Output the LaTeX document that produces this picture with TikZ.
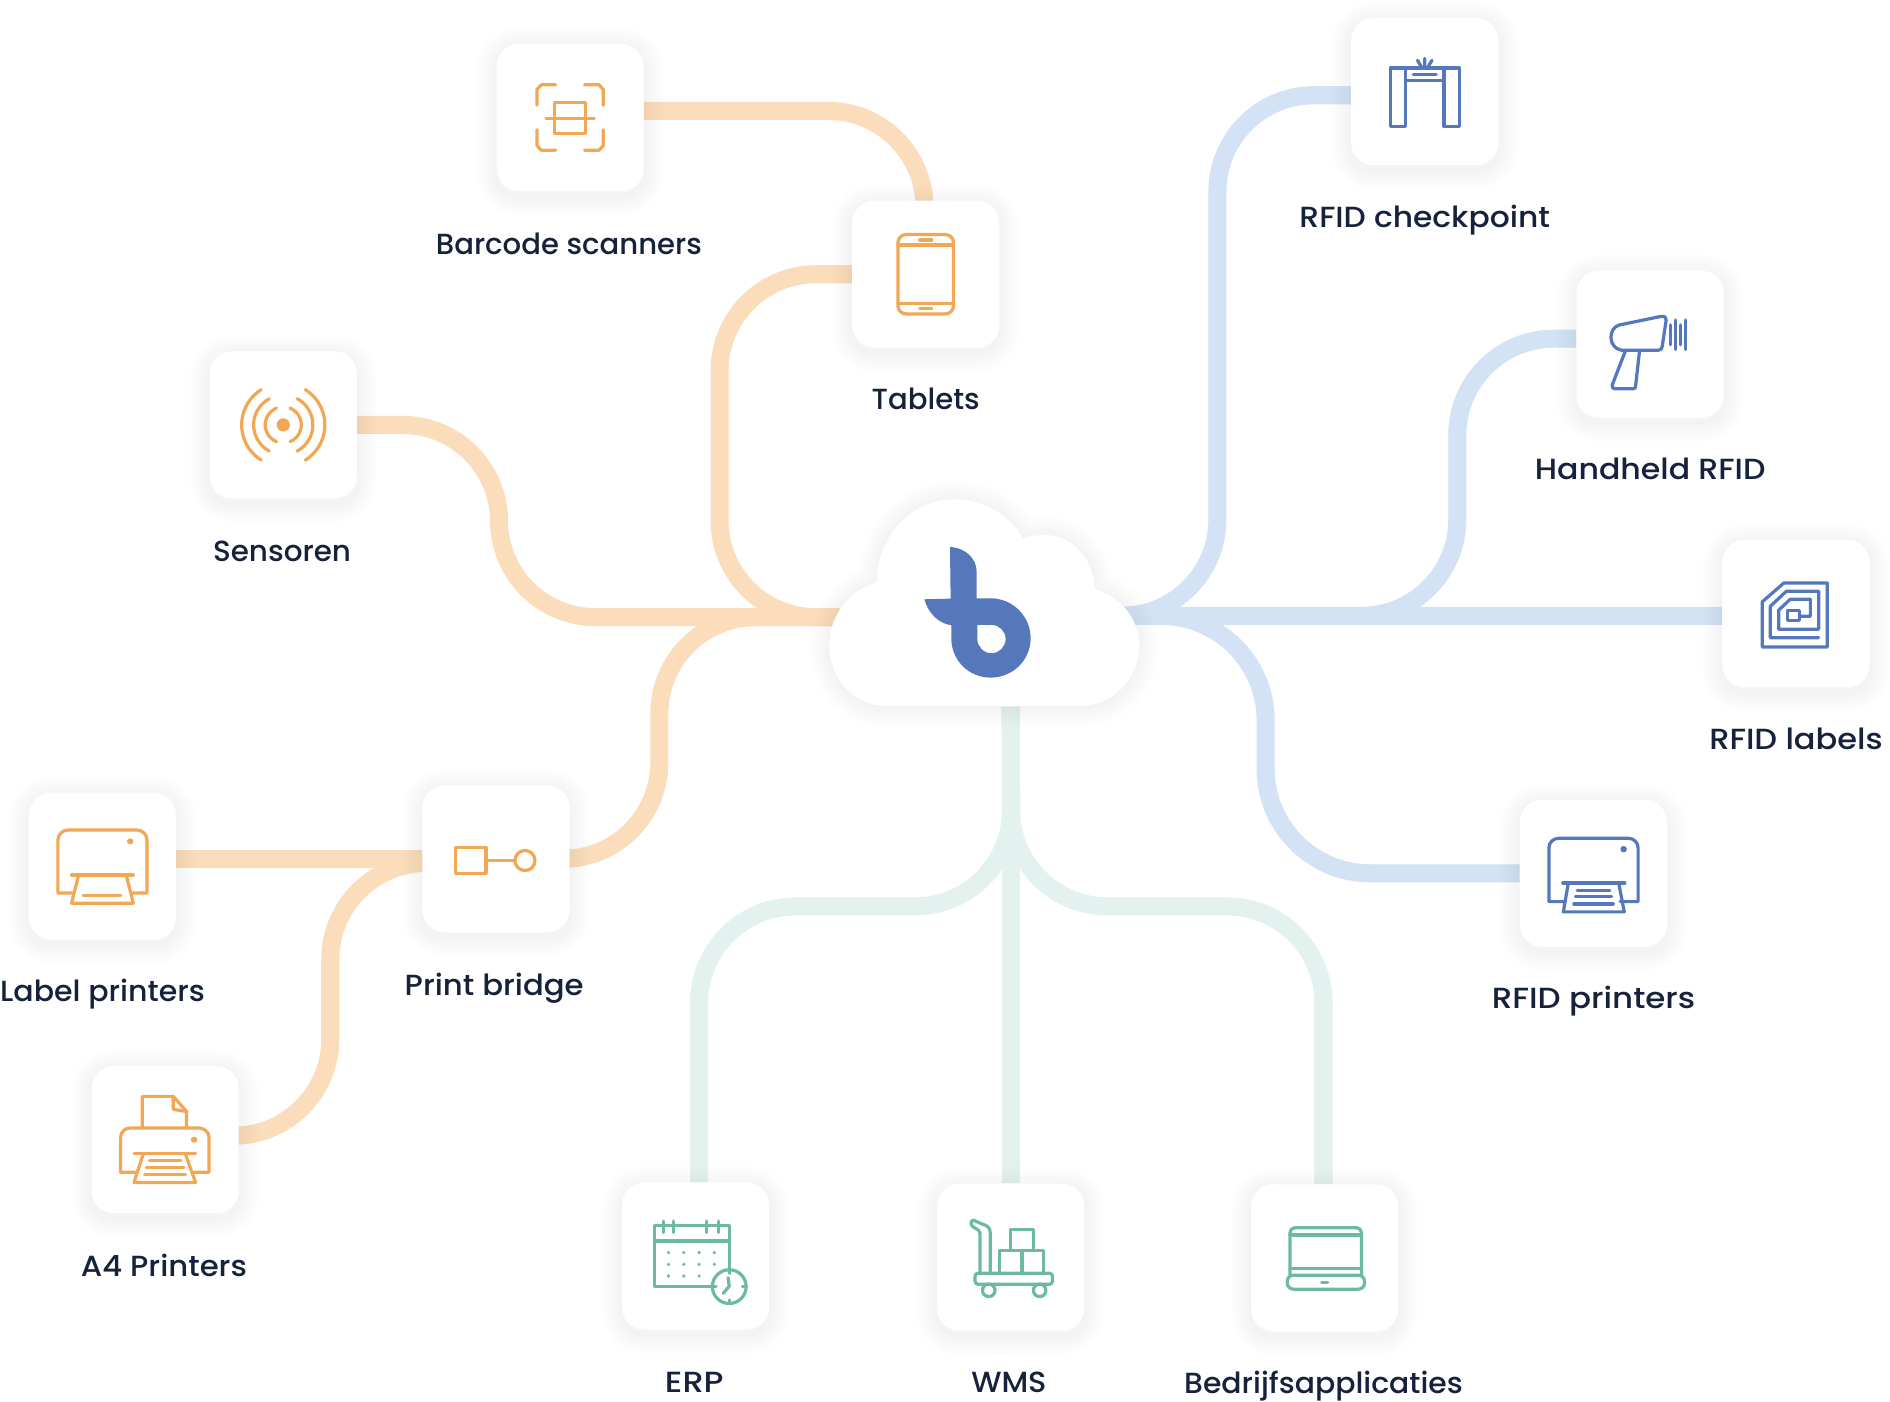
\documentclass[tikz,border=0pt]{standalone}
\usepackage{fontspec}
\setmainfont{Poppins Medium}
\usetikzlibrary{backgrounds}
\pgfdeclarelayer{wires}\pgfdeclarelayer{shad}
\pgfsetlayers{wires,shad,main}
\definecolor{wo}{HTML}{FBDDBC}
\definecolor{wb}{HTML}{D3E2F4}
\definecolor{wg}{HTML}{E3F1EF}
\definecolor{io}{HTML}{F2A754}
\definecolor{ib}{HTML}{5478BB}
\definecolor{ig}{HTML}{6CBB9F}
\definecolor{ink}{HTML}{16213B}
\tikzset{
 tilebox/.style={rectangle,fill=white,rounded corners=11pt,minimum width=73.2pt,minimum height=73.2pt,inner sep=0pt},
 lab/.style={anchor=base,inner sep=0pt,text=ink,font=\fontsize{14.5pt}{16pt}\selectfont},
 wire/.style={line width=9pt,rounded corners=48pt,line cap=butt},
 ico/.style={line width=1.6pt,line join=round,line cap=round,fill=none},
 hubbox/.style={rectangle,minimum width=126pt,minimum height=103.2pt,inner sep=0pt}
}
\newcommand{\tile}[3]{%
 \node[tilebox] (#1) at (#2,#3) {};
 \begin{pgfonlayer}{shad}
 \foreach \i in {1,...,12}{
  \draw[black,opacity=.0052,line width=\i*1.7pt,rounded corners=11pt]
    ([yshift=-2pt]#1.north west) rectangle ([yshift=-2pt]#1.south east);
 }
 \end{pgfonlayer}}
\begin{document}
\begin{tikzpicture}[x=0.6pt,y=-0.6pt]
\useasboundingbox (0,0) rectangle (1568,1162.4);
% tiles
\tile{barcode}{473}{97.5}
\tile{tablet}{768}{227.5}
\tile{sensor}{235}{352.5}
\tile{checkpoint}{1182}{76}
\tile{handheld}{1369}{285.5}
\tile{labels}{1490}{509}
\tile{rprinter}{1322}{724.5}
\tile{lprinter}{85}{718.5}
\tile{bridge}{411.5}{712.5}
\tile{afour}{137}{945.5}
\tile{erp}{577}{1042}
\tile{wms}{838.5}{1043}
\tile{apps}{1099}{1043.5}
% cloud
\begin{pgfonlayer}{shad}
\begin{scope}[shift={(647.1,381.6)},scale=0.2765]
\foreach \i in {1,...,12}{
\draw[black,opacity=.0052,line width=\i*1.7pt,line join=round,yshift=-2pt]
 (320,738) .. controls (220,738) and (148,655) .. (148,555) .. controls (148,465) and (210,390) .. (290,367) .. controls (290,230) and (395,118) .. (520,118) .. controls (610,118) and (690,165) .. (728,235) .. controls (750,228) and (775,225) .. (795,225) .. controls (875,225) and (940,295) .. (945,387) .. controls (1020,410) and (1078,475) .. (1078,555) .. controls (1078,655) and (1000,738) .. (900,738) -- cycle;
}
\end{scope}
\end{pgfonlayer}
\begin{scope}[shift={(647.1,381.6)},scale=0.2765]
\fill[white]
 (320,738) .. controls (220,738) and (148,655) .. (148,555) .. controls (148,465) and (210,390) .. (290,367) .. controls (290,230) and (395,118) .. (520,118) .. controls (610,118) and (690,165) .. (728,235) .. controls (750,228) and (775,225) .. (795,225) .. controls (875,225) and (940,295) .. (945,387) .. controls (1020,410) and (1078,475) .. (1078,555) .. controls (1078,655) and (1000,738) .. (900,738) -- cycle;
\fill[ib,even odd rule]
 (510,261) .. controls (555,263) and (590,295) .. (590,335) -- (590,415) -- (632,415) .. controls (698,415) and (752,469) .. (752,535) .. controls (752,601) and (698,653) .. (632,653) .. controls (566,653) and (514,601) .. (514,535) -- (514,496) .. controls (475,490) and (445,460) .. (433,418) -- (512,416) -- cycle
 (592,495) -- (635,495) .. controls (658,495) and (677,514) .. (677,537) .. controls (677,560) and (658,580) .. (635,580) .. controls (611,580) and (592,560) .. (592,537) -- cycle;
\end{scope}
\node[hubbox] (hub) at (816.5,500) {};
% connectors
\begin{pgfonlayer}{wires}
\begin{scope}[wo]
\draw[wire] ([yshift=3.3pt]barcode.east) -- ([xshift=-0.6pt,yshift=3.3pt]barcode.east -| tablet.north) -- ([xshift=-0.6pt]tablet.north);
\draw[wire] (tablet.west) -- (597,227.5) -- (597,512) -- ([yshift=-7.2pt]hub.west);
\draw[wire] (sensor.east) -- (414,352.5) -- (414,512) -- ([yshift=-7.2pt]hub.west);
\draw[wire] (bridge.east) -- (547,712.5) -- (547,512) -- ([yshift=-7.2pt]hub.west);
\draw[wire,rounded corners=0pt] (lprinter.east |- bridge.west) -- (bridge.west);
\draw[wire] ([yshift=2pt]afour.east) -- (274,942) -- (274,716) -- ([yshift=-2pt]bridge.west);
\end{scope}
\begin{scope}[wb]
\draw[wire] ([yshift=-1.8pt]checkpoint.west) -- (1010,79) -- (1010,511) -- ([yshift=-6.6pt]hub.east);
\draw[wire] ([yshift=2.7pt]handheld.west) -- (1209,281) -- (1209,511) -- ([yshift=-6.6pt]hub.east);
\draw[wire,rounded corners=0pt] ([yshift=-1.2pt]labels.west) -- ([yshift=-6.6pt]hub.east);
\draw[wire,rounded corners=52pt] (rprinter.west) -- (1050,724.5) -- (1050,511) -- ([yshift=-6.6pt]hub.east);
\end{scope}
\begin{scope}[wg]
\draw[wire] (wms.north) -- (hub.south -| wms.north);
\draw[wire] ([xshift=1.8pt]erp.north) -- (580,752) -- (839,752) -- (hub.south -| wms.north);
\draw[wire] ([xshift=-0.6pt]apps.north) -- (1098,752) -- (839,752) -- (hub.south -| wms.north);
\end{scope}
\end{pgfonlayer}
% icons
\begin{scope}[shift={(barcode.center)},yscale=.968,ico,io]
\draw (-27.5,-10.5) -- (-27.5,-24) -- (-24,-28) -- (-12,-28);
\draw (27.5,-10.5) -- (27.5,-24) -- (24,-28) -- (12,-28);
\draw (-27.5,10.5) -- (-27.5,24) -- (-24,28) -- (-12,28);
\draw (27.5,10.5) -- (27.5,24) -- (24,28) -- (12,28);
\draw (-13,-13) rectangle (13,14);
\draw (-20,1) -- (20,1);
\end{scope}
\begin{scope}[shift={(tablet.center)},yscale=.968,ico,io]
\draw[rounded corners=4pt] (-23,-34) rectangle (23,34);
\draw (-23,-25) -- (23,-25) (-23,25) -- (23,25);
\draw (-5,-29.3) -- (5,-29.3) (-5,29.3) -- (5,29.3);
\end{scope}
\begin{scope}[shift={(sensor.center)},ico,io]
\fill[io,draw=none] (0,0) circle (5.5);
\foreach \r/\a in {15/68,24.6/62,34.5/58}{
 \draw (180-\a:\r) arc[start angle=180-\a,end angle=180+\a,radius=\r];
 \draw (-\a:\r) arc[start angle=-\a,end angle=\a,radius=\r];
}
\end{scope}
\begin{scope}[shift={(checkpoint.center)},ico,ib]
\draw (-28.5,-19.5) rectangle (-16,29);
\draw (16,-19.5) rectangle (28.5,29);
\draw (-16,-19.5) -- (16,-19.5) (-16,-9.5) -- (16,-9.5);
\draw (-9.5,-14.5) -- (9.5,-14.5);
\draw (0,-21) -- (0,-27.5) (-3,-21) -- (-6,-26) (3,-21) -- (6,-26);
\end{scope}
\begin{scope}[shift={(handheld.center)},ico,ib]
\draw (-26,-15.8) -- (9,-23) .. controls (12,-23.5) and (13.6,-22) .. (13.3,-20) -- (10,2) .. controls (9.6,4) and (9,5) .. (7,5) -- (-24,5) .. controls (-35,3) and (-35,-13) .. (-26,-15.8);
\draw (-20.5,5.5) -- (-31.5,34) .. controls (-32,36) and (-31,37) .. (-29,37) -- (-14,37) .. controls (-12,37) and (-12,36) .. (-12,34) -- (-8.8,5.5);
\draw (16.9,-16) -- (16.9,0.5) (21,-20) -- (21,4.4) (25,-16) -- (25,0.5) (29.4,-20) -- (29.4,4.4);
\end{scope}
\begin{scope}[shift={(labels.center)},ico,ib]
\draw (-28,27.7) -- (-28,-9.7) -- (-10,-25.4) -- (26,-25.4) -- (26,27.7) -- cycle;
\draw (18.8,20) -- (-21.3,20) -- (-21.3,-6) -- (-8,-18.5) -- (18.8,-18.5) -- (18.8,13) -- (-14.4,13) -- (-14.4,-2.8) -- (-4.7,-11.9) -- (11.9,-11.9) -- (11.9,2.2) -- (3,2.2);
\draw (-7,-2.8) rectangle (3,5.5);
\end{scope}
\begin{scope}[shift={(rprinter.center)},ico,ib]
\draw (-25,23.5) -- (-37,23.5) -- (-37,-21) .. controls (-37,-26) and (-33,-29) .. (-29,-29) -- (29,-29) .. controls (33,-29) and (37,-26) .. (37,-21) -- (37,23.5) -- (22,23.5);
\fill[ib,draw=none] (25,-20) circle (2.7);
\draw (-25.5,8) -- (26,8);
\draw (-21,8.5) -- (-25,32) -- (25.5,32) -- (21,8.5);
\draw (-13.5,14) -- (13.5,14) (-15,19.4) -- (15,19.4) (-16.3,25.4) -- (16.3,25.4);
\end{scope}
\begin{scope}[shift={(lprinter.center)},yscale=.933,ico,io]
\draw (-25,24) -- (-37,24) -- (-37,-23) .. controls (-37,-28) and (-33,-32) .. (-29,-32) -- (29,-32) .. controls (33,-32) and (37,-28) .. (37,-23) -- (37,24) -- (25,24);
\fill[io,draw=none] (23,-22) circle (2.7);
\draw (-25.6,8) -- (25.6,8);
\draw (-20,9) -- (-25.6,33) -- (25.6,33) -- (20,9);
\draw (-16,26) -- (15,26);
\end{scope}
\begin{scope}[shift={(bridge.center)},ico,io]
\draw (-33.8,-9.1) rectangle (-8.3,12.1);
\draw (-8.3,1.4) -- (15.5,1.4);
\draw (24,1.4) circle (8.3);
\end{scope}
\begin{scope}[shift={(afour.center)},yscale=.933,ico,io]
\draw (-25,29) -- (-37,29) -- (-37,-2) .. controls (-37,-7) and (-33,-10.4) .. (-29,-10.4) -- (28,-10.4) .. controls (32,-10.4) and (36.4,-7) .. (36.4,-2) -- (36.4,29) -- (24,29);
\draw (-19,-10.4) -- (-19,-38.5) -- (6.8,-38.5) -- (17.8,-25) -- (17.8,-10.4);
\draw (6.8,-38.5) -- (6.8,-27) -- (17.8,-25);
\fill[io,draw=none] (24,0) circle (2.7);
\draw (-25.8,12.4) -- (25.2,12.4);
\draw (-18.4,13.3) -- (-25.8,38) -- (25.2,38) -- (17,13.3);
\draw (-13,18.4) -- (13,18.4) (-15.5,24.6) -- (15.5,24.6) (-17,31) -- (17,31);
\end{scope}
\begin{scope}[shift={(erp.center)},ico,ig]
\draw (28,11) -- (28,-25) -- (-34,-25) -- (-34,25) -- (14,25);
\draw (-34,-12.4) -- (28,-12.4);
\draw (-26.7,-29) -- (-26.7,-19.4) (-18,-29) -- (-18,-19.4) (9.3,-29) -- (9.3,-19.4) (19,-29) -- (19,-19.4);
\foreach \y in {-2.8,6.9}{\foreach \x in {-22.4,-9.7,3,15.7}{\fill[ig,draw=none] (\x,\y) circle (1.5);}}
\foreach \x in {-22.4,-9.7,3}{\fill[ig,draw=none] (\x,16.6) circle (1.5);}
\draw (28,25.4) circle (14);
\draw (27,18) -- (28,25) -- (23,31);
\draw (28,11.4) -- (28,14.5) (28,36.5) -- (28,39.4) (14,25.4) -- (17,25.4) (39,25.4) -- (42,25.4);
\end{scope}
\begin{scope}[shift={(wms.center)},ico,ig]
\draw (-25.4,12.7) -- (-25.4,-20) .. controls (-25.4,-24) and (-34,-24) .. (-33,-29) .. controls (-32,-32) and (-29,-30) .. (-27,-29) -- (-20,-26) .. controls (-17,-24) and (-17,-22) .. (-17,-18) -- (-17,12.7);
\draw[rounded corners=1.5pt] (-29.6,13.3) rectangle (34.7,22.4);
\draw (-18.2,27.5) circle (5.2) (24,27.5) circle (5.2);
\draw (0,-23) rectangle (19,-5.3);
\draw (-9.3,-5.3) rectangle (9.3,13.3);
\draw (9.3,-5.3) rectangle (27.5,13.3);
\end{scope}
\begin{scope}[shift={(apps.center)},ico,ig]
\draw[rounded corners=2.5pt] (-28.8,14.4) -- (-28.8,-25) -- (30.5,-25) -- (30.5,14.4);
\draw (-28.8,-19) -- (30.5,-19) (-28.8,8.6) -- (30.5,8.6);
\draw[rounded corners=3pt] (-31,14.4) -- (-31,26) -- (33,26) -- (33,14.4) -- cycle;
\draw (-2.5,20.7) -- (2.5,20.7);
\end{scope}
% labels
\node[lab] (t1) at (472,211) {Barcode scanners};
\node[lab] (t2) at (768,340) {Tablets};
\node[lab] (t3) at (234,466) {\scalebox{1.01}[1]{Sensoren}};
\node[lab] (t4) at (1182,189) {\scalebox{1.075}[1]{RFID checkpoint}};
\node[lab] (t5) at (1369,398) {\scalebox{1.085}[1]{Handheld RFID}};
\node[lab] (t6) at (1490,622) {\scalebox{1.10}[1]{RFID labels}};
\node[lab] (t7) at (1322,837) {\scalebox{1.115}[1]{RFID printers}};
\node[lab] (t8) at (85,831) {\scalebox{1.03}[1]{Label printers}};
\node[lab] (t9) at (410,826) {\scalebox{1.055}[1]{Print bridge}};
\node[lab] (t10) at (136,1059) {\scalebox{1.055}[1]{A4 Printers}};
\node[lab] (t11) at (576,1155) {\scalebox{1.15}[1]{ERP}};
\node[lab] (t12) at (837,1155) {\scalebox{1.04}[1]{WMS}};
\node[lab] (t13) at (1098,1156) {\scalebox{1.025}[1]{Bedrijfsapplicaties}};
\end{tikzpicture}
\end{document}
